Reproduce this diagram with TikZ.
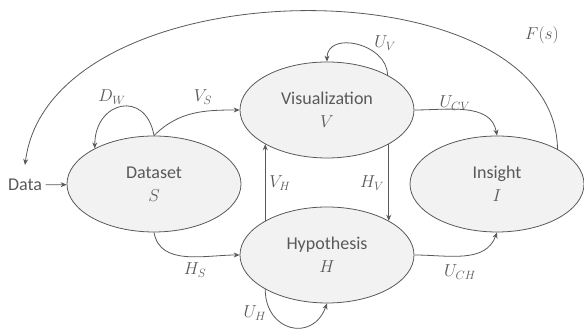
\documentclass[tikz,border=0pt]{standalone}
\usepackage{fontspec}
\setmainfont{Carlito}
\usetikzlibrary{shapes.geometric,arrows.meta}
\definecolor{linegray}{HTML}{595959}
\definecolor{fillgray}{HTML}{F2F2F2}
\tikzset{
  stnode/.style={ellipse,draw=linegray,fill=fillgray,line width=0.8pt,minimum width=174pt,minimum height=96pt,inner sep=0pt,align=center,text=linegray,font=\fontsize{18}{23}\selectfont},
  lbl/.style={text=linegray,font=\fontsize{18}{22}\selectfont},
  arr/.style={draw=linegray,line width=0.8pt,-{Stealth[length=6pt,width=5pt]}}
}
\begin{document}
\begin{tikzpicture}[x=1pt,y=1pt]
\useasboundingbox (0,0) rectangle (584,331);
% states
\node[stnode] (S) at (154,147) {Dataset\\$S$};
\node[stnode] (V) at (327,221) {Visualization\\$V$};
\node[stnode] (H) at (327,76) {Hypothesis\\$H$};
\node[stnode] (I) at (497,147) {Insight\\$I$};
\node[lbl] (data) at (25,146) {Data};
\coordinate (fend) at (25,166);
% transitions
\draw[arr] (data) -- (S);
\draw[arr] (S.north) to[out=100,in=90,looseness=2] (S.149);
\draw[arr] (S.north) to[out=45,in=180] (V.west);
\draw[arr] (S.south) to[out=-80,in=180] (H.west);
\draw[arr] (V.30) to[out=90,in=90,looseness=1.3] (V.north);
\draw[arr] (V.east) to[out=0,in=100] (I.north);
\draw[arr] (H.east) to[out=0,in=-110] (I.south);
\draw[arr] (H.209) to[out=-90,in=-110,looseness=1.7] (H.south);
\draw[arr] (H.151) -- (V.209);
\draw[arr] (V.331) -- (H.29);
\draw[arr] (I.30) .. controls (555,371) and (50,366) .. (fend);
% labels
\node[lbl] (lDW) at (112,234) {$D_W$};
\node[lbl] (lVS) at (203,234) {$V_S$};
\node[lbl] (lUV) at (385,288) {$U_V$};
\node[lbl] (lF) at (542,296) {$F(s)$};
\node[lbl] (lUCV) at (455,228) {$U_{CV}$};
\node[lbl] (lVH) at (280,148) {$V_H$};
\node[lbl] (lHV) at (372,148) {$H_V$};
\node[lbl] (lHS) at (195,61) {$H_S$};
\node[lbl] (lUCH) at (460,59) {$U_{CH}$};
\node[lbl] (lUH) at (255,18) {$U_H$};
\end{tikzpicture}
\end{document}
